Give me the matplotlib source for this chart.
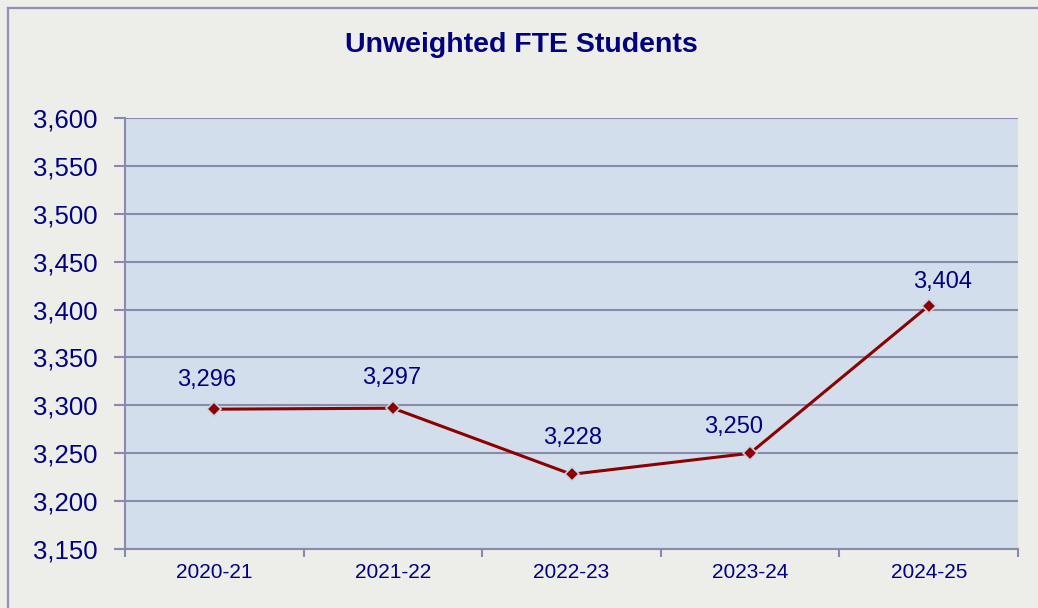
import matplotlib
matplotlib.use('Agg')
import matplotlib.pyplot as plt
from matplotlib.lines import Line2D

years = ['2020-21', '2021-22', '2022-23', '2023-24', '2024-25']
fte = [3296, 3297, 3228, 3250, 3404]
y_ticks = [3150, 3200, 3250, 3300, 3350, 3400, 3450, 3500, 3550, 3600]

# label offsets in pixels (dx, dy) as placed in the original
label_off = [(-8, 29), (-1, 30), (1, 36), (-17, 26), (14, 24)]

plt.rcParams['font.family'] = ['Liberation Sans', 'DejaVu Sans']

navy = '#000080'
grid_c = '#8A8AAA'
W, H = 1038, 608
fig = plt.figure(figsize=(W / 100, H / 100), dpi=100)
fig.patch.set_facecolor('#EDEDEA')

# frame along top and left edge
fig.add_artist(Line2D([8 / W, 8 / W], [0, 1 - 8 / H], transform=fig.transFigure,
                      color='#9090B8', lw=1.6))
fig.add_artist(Line2D([8 / W, 1], [1 - 8 / H, 1 - 8 / H], transform=fig.transFigure,
                      color='#9090B8', lw=1.6))

ax = fig.add_axes([125 / W, (H - 549) / H, (1018 - 125) / W, (549 - 118) / H])
ax.set_facecolor('#D3DEEC')

x = list(range(len(years)))
ax.plot(x, fte, color='#8B0000', lw=2.2, marker='D', markersize=7,
        markerfacecolor='#8B0000', markeredgecolor='#C8D4E6', markeredgewidth=1.2,
        zorder=3)

for xi, v, (dx, dy) in zip(x, fte, label_off):
    ax.annotate(f'{v:,}', (xi, v), xytext=(dx, dy), textcoords='offset pixels',
                ha='center', va='center', color=navy, fontsize=17)

ax.set_xlim(-0.5, len(years) - 0.5)
ax.set_ylim(3150, 3600)
ax.set_yticks(y_ticks)
ax.set_yticklabels([f'{t:,}' for t in y_ticks])
ax.yaxis.grid(True, color=grid_c, lw=1.5)
ax.set_axisbelow(True)

ax.set_xticks([i - 0.5 for i in range(len(years) + 1)])
ax.set_xticklabels([])
ax.set_xticks(x, minor=True)
ax.set_xticklabels(years, minor=True)
ax.tick_params(axis='x', which='major', length=6, width=1.5, color=grid_c)
ax.tick_params(axis='x', which='minor', length=0, pad=10, labelsize=15, labelcolor=navy)
ax.tick_params(axis='y', length=8, width=1.5, color=grid_c, pad=12,
               labelsize=18.5, labelcolor=navy)

for s in ['top', 'right']:
    ax.spines[s].set_visible(False)
for s in ['left', 'bottom']:
    ax.spines[s].set_color(grid_c)
    ax.spines[s].set_linewidth(1.5)

fig.text(521 / W, 1 - 45 / H, 'Unweighted FTE Students', ha='center', va='center',
         fontsize=20.5, fontweight='bold', color=navy)

fig.savefig('out.png', dpi=100, facecolor=fig.get_facecolor())
